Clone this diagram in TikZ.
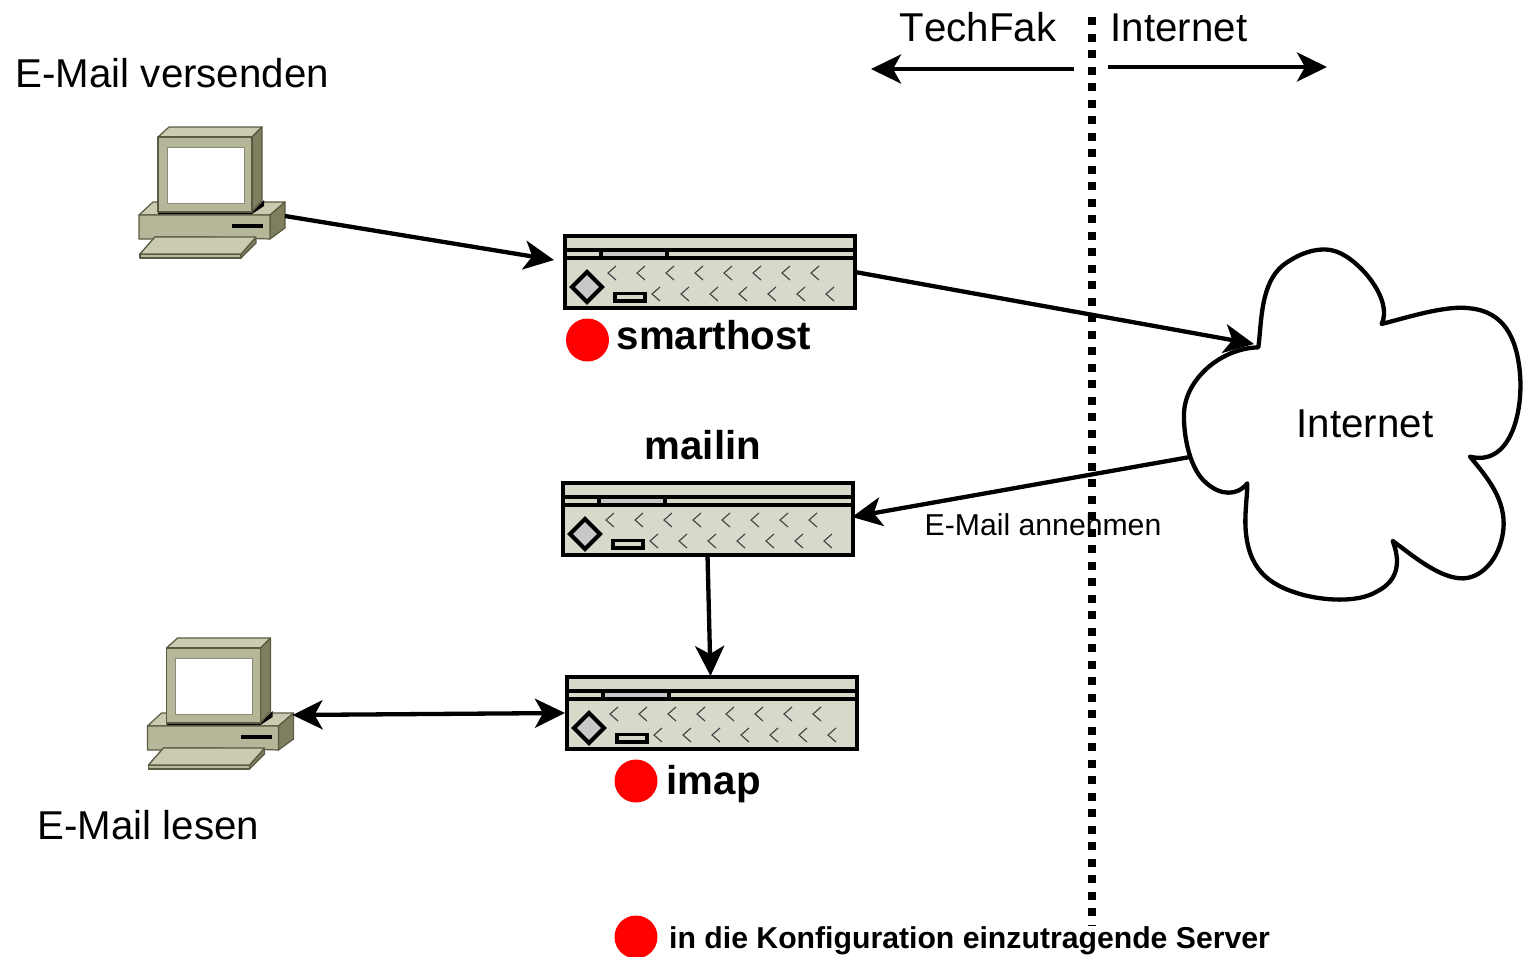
\documentclass[tikz,border=0pt]{standalone}
\usepackage{fontspec}
\setmainfont[Kerning=Off]{Liberation Sans}
\usetikzlibrary{arrows.meta}
\definecolor{srvfill}{HTML}{D8D8CB}
\definecolor{srvgray}{HTML}{C8C8C8}
\definecolor{pcfront}{HTML}{B6B699}
\definecolor{pctop}{HTML}{CBCBB2}
\definecolor{pcside}{HTML}{7F7F60}
\definecolor{pcline}{HTML}{5A5A42}
\tikzset{
  x=1pt,y=-1pt,
  conn/.style={line width=4.3pt,-{Stealth[length=30pt,width=29pt,inset=8pt]}},
  connboth/.style={line width=4.3pt,{Stealth[length=30pt,width=29pt,inset=8pt]}-{Stealth[length=30pt,width=29pt,inset=8pt]}},
  srvline/.style={draw=black,line width=4pt},
  chev/.style={draw=black!75,line width=1.1pt},
  pcpart/.style={draw=pcline,line width=1.2pt,line join=round},
  big/.style={font=\fontsize{40.25}{46}\selectfont,anchor=base west,inner sep=0pt},
  bigbold/.style={font=\fontsize{40.25}{46}\selectfont\bfseries,anchor=base west,inner sep=0pt},
  small/.style={font=\fontsize{30.2}{36}\selectfont,anchor=base west,inner sep=0pt},
  smallbold/.style={font=\fontsize{30.2}{36}\selectfont\bfseries,anchor=base west,inner sep=0pt},
  reddot/.style={circle,fill=red,draw=none,minimum size=43pt,inner sep=0pt},
  devbox/.style={rectangle,draw=none,inner sep=0pt,outer sep=0pt},
  pics/serverbox/.style={code={
    \fill[srvfill] (0.5,0) rectangle (290.5,72);
    \draw[srvline] (0.5,14) -- (290.5,14) (0.5,22) -- (290.5,22);
    \draw[srvline,fill=srvgray,line width=3.4pt] (37,14) rectangle (103,22);
    \draw[srvline] (0.5,0) rectangle (290.5,72);
    \draw[srvline,fill=srvgray] (23,36) -- (38,51) -- (23,66) -- (8,51) -- cycle;
    \draw[srvline,fill=srvfill,line width=3.4pt] (51,57.5) rectangle (81,65);
    \foreach \i in {0,...,7}{\draw[chev] (52+\i*29,30) -- (44+\i*29,37) -- (52+\i*29,44);}
    \foreach \i in {0,...,6}{\draw[chev] (96+\i*29,51) -- (88+\i*29,58) -- (96+\i*29,65);}
  }},
  pics/pcbox/.style={code={
    \draw[pcpart,fill=pctop] (16,110) -- (117,110) -- (102,127) -- (1,127) -- cycle;
    \draw[pcpart,fill=pcside] (117,110) -- (117,116) -- (102,131) -- (102,127) -- cycle;
    \draw[pcpart,fill=pcfront] (1,127) -- (102,127) -- (102,131) -- (1,131) -- cycle;
    \draw[pcpart,fill=pctop] (0,88) -- (14,75) -- (146,75) -- (131,88) -- cycle;
    \draw[pcpart,fill=pcside] (131,88) -- (146,75) -- (146,101) -- (131,112) -- cycle;
    \draw[pcpart,fill=pcfront] (0,88) -- (131,88) -- (131,112) -- (66,110) -- (16,110) -- (14,112) -- (0,112) -- cycle;
    \fill[black] (93,97) rectangle (124,101);
    \draw[pcpart,fill=pctop] (16,110) -- (117,110) -- (102,127) -- (1,127) -- cycle;
    \fill[black] (19,85) -- (113,85) -- (125,73) -- (125,79) -- (113,87) -- (19,87) -- cycle;
    \draw[pcpart,fill=pctop] (19,10) -- (30,0) -- (123,0) -- (113,10) -- cycle;
    \draw[pcpart,fill=pcside] (113,10) -- (123,0) -- (123,73) -- (113,85) -- cycle;
    \draw[pcpart,fill=pcfront] (19,10) rectangle (113,85);
    \draw[draw=pcline!70,line width=1pt,fill=white] (28,20) rectangle (105,76);
  }}
}
\begin{document}
\begin{tikzpicture}[x=1pt,y=-1pt]
\useasboundingbox (0,0) rectangle (1523,956);
\coordinate (bt) at (1092,17);
\coordinate (bb) at (1092,925);
\draw[line width=8pt,dash pattern=on 8pt off 8.5pt] (bt) -- (bb);

\node[devbox,minimum width=146pt,minimum height=131pt] (pc1) at (212,192.5) {};
\node[devbox,minimum width=146pt,minimum height=131pt] (pc2) at (220.5,703.5) {};
\node[devbox,minimum width=291pt,minimum height=72pt] (smarthost) at (709.5,272) {};
\node[devbox,minimum width=291pt,minimum height=72pt] (mailin) at (707.5,519) {};
\node[devbox,minimum width=291pt,minimum height=72pt] (imap) at (711.5,713) {};

\pic at (139,127) {pcbox};
\pic at (147.5,638) {pcbox};
\pic at (564,236) {serverbox};
\pic at (562,483) {serverbox};
\pic at (566,677) {serverbox};

\begin{scope}[shift={(1170,240)},x=0.3333pt,y=-0.3333pt]
\draw[line width=4.3pt,line join=round,fill=white]
 (265,322) .. controls (275,250) and (270,130) .. (340,75)
 .. controls (400,30) and (460,20) .. (500,35)
 .. controls (570,60) and (670,180) .. (635,252)
 .. controls (720,230) and (830,195) .. (900,205)
 .. controls (1000,215) and (1040,290) .. (1050,400)
 .. controls (1060,520) and (1020,680) .. (900,650)
 .. controls (950,710) and (1010,780) .. (1000,870)
 .. controls (990,960) and (930,1020) .. (870,1015)
 .. controls (800,1010) and (720,940) .. (668,903)
 .. controls (690,960) and (690,1020) .. (620,1055)
 .. controls (570,1085) and (480,1085) .. (400,1065)
 .. controls (310,1040) and (240,1000) .. (228,880)
 .. controls (222,830) and (232,770) .. (232,730)
 .. controls (200,770) and (150,765) .. (110,730)
 .. controls (60,690) and (40,590) .. (42,520)
 .. controls (45,420) and (150,325) .. (265,322) -- cycle;
\end{scope}
\node[font=\fontsize{40.25}{46}\selectfont,inner sep=0pt] (cloud) at (1365,424) {Internet};

\draw[conn] ([shift={(0,23.5)}]pc1.east) -- ([shift={(-10,-12)}]smarthost.west);
\draw[conn] (smarthost.east) -- ([shift={(-111,-80)}]cloud.center);
\draw[conn] ([shift={(-175,33)}]cloud.center) -- ([shift={(-1,-2)}]mailin.east);
\draw[conn] (mailin.south) -- ([shift={(-1,-1)}]imap.north);
\draw[connboth] ([shift={(-1,11.5)}]pc2.east) -- ([shift={(-1,0)}]imap.west);

\coordinate (tfs) at (1074,69);
\coordinate (tfe) at (871,69);
\coordinate (ins) at (1108,67);
\coordinate (ine) at (1327,67);
\draw[conn] (tfs) -- (tfe);
\draw[conn] (ins) -- (ine);

\node[big] (lbltf) at (899.5,41) {TechFak};
\node[big] (lblin) at (1110.5,41) {Internet};
\node[big] (lblsend) at (15.5,87) {E-Mail versenden};
\node[big] (lblread) at (37.5,839) {E-Mail lesen};
\node[bigbold] (lblsmart) at (616.5,349) {smarthost};
\node[bigbold] (lblmailin) at (644.5,459) {mailin};
\node[bigbold] (lblimap) at (666.5,794) {imap};
\node[small] (lblann) at (924.5,535) {E-Mail annehmen};
\node[smallbold] (lbllegend) at (669,948) {in die Konfiguration einzutragende Server};
\node[reddot] (dot1) at (587.5,340) {};
\node[reddot] (dot2) at (636,781) {};
\node[reddot] (dot3) at (636,937) {};
\end{tikzpicture}
\end{document}
